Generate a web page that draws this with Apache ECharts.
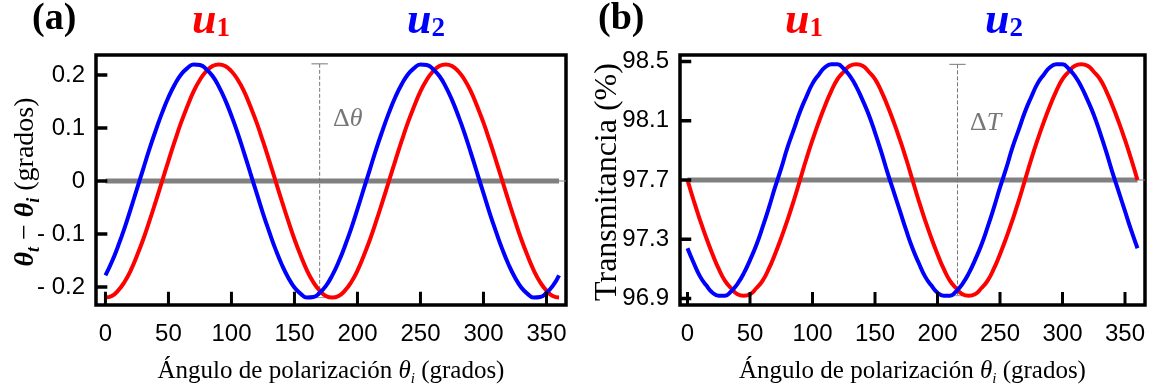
<!DOCTYPE html>
<html>
<head>
<meta charset="utf-8">
<script src="https://cdn.jsdelivr.net/npm/echarts@6/dist/echarts.min.js"></script>
<style>
  html, body { margin: 0; padding: 0; background: #fff; }
  #chart { width: 1157px; height: 391px; }
</style>
</head>
<body>
<div id="chart"></div>
<script>
// polarisation angle, degrees (every 5)
var angles = [0,5,10,15,20,25,30,35,40,45,50,55,60,65,70,75,80,85,90,95,100,105,110,115,120,125,130,135,140,145,150,155,160,165,170,175,
  180,185,190,195,200,205,210,215,220,225,230,235,240,245,250,255,260,265,270,275,280,285,290,295,300,305,310,315,320,325,330,335,340,345,350,355,360]

// (a) theta_t - theta_i (grados)
var devU1 = [-0.22,-0.217,-0.207,-0.191,-0.169,-0.141,-0.11,-0.075,-0.038,0,0.038,0.075,0.11,0.141,0.169,0.191,0.207,0.217,0.22,0.217,0.207,0.191,0.169,0.141,0.11,0.075,0.038,0,-0.038,-0.075,-0.11,-0.141,-0.169,-0.191,-0.207,-0.217,
  -0.22,-0.217,-0.207,-0.191,-0.169,-0.141,-0.11,-0.075,-0.038,0,0.038,0.075,0.11,0.141,0.169,0.191,0.207,0.217,0.22,0.217,0.207,0.191,0.169,0.141,0.11,0.075,0.038,0,-0.038,-0.075,-0.11,-0.141,-0.169,-0.191,-0.207,-0.217,-0.22]
var devU2 = [-0.178,-0.153,-0.123,-0.09,-0.053,-0.015,0.023,0.061,0.096,0.129,0.158,0.182,0.201,0.213,0.22,0.219,0.211,0.198,0.178,0.153,0.123,0.09,0.053,0.015,-0.023,-0.061,-0.096,-0.129,-0.158,-0.182,-0.201,-0.213,-0.22,-0.219,-0.211,-0.198,
  -0.178,-0.153,-0.123,-0.09,-0.053,-0.015,0.023,0.061,0.096,0.129,0.158,0.182,0.201,0.213,0.22,0.219,0.211,0.198,0.178,0.153,0.123,0.09,0.053,0.015,-0.023,-0.061,-0.096,-0.129,-0.158,-0.182,-0.201,-0.213,-0.22,-0.219,-0.211,-0.198,-0.178]

// (b) transmitancia (%)
var transU1 = [97.70,97.56,97.43,97.31,97.20,97.10,97.02,96.97,96.93,96.92,96.93,96.97,97.02,97.10,97.20,97.31,97.43,97.56,97.70,97.84,97.97,98.09,98.20,98.30,98.38,98.43,98.47,98.48,98.47,98.43,98.38,98.30,98.20,98.09,97.97,97.84,
  97.70,97.56,97.43,97.31,97.20,97.10,97.02,96.97,96.93,96.92,96.93,96.97,97.02,97.10,97.20,97.31,97.43,97.56,97.70,97.84,97.97,98.09,98.20,98.30,98.38,98.43,98.47,98.48,98.47,98.43,98.38,98.30,98.20,98.09,97.97,97.84,97.70]
var transU2 = [97.24,97.14,97.05,96.99,96.94,96.92,96.92,96.95,97.00,97.07,97.16,97.26,97.38,97.51,97.65,97.78,97.92,98.04,98.16,98.26,98.35,98.41,98.46,98.48,98.48,98.45,98.40,98.33,98.24,98.14,98.02,97.89,97.75,97.62,97.49,97.36,
  97.24,97.14,97.05,96.99,96.94,96.92,96.92,96.95,97.00,97.07,97.16,97.26,97.38,97.51,97.65,97.78,97.92,98.04,98.16,98.26,98.35,98.41,98.46,98.48,98.48,98.45,98.40,98.33,98.24,98.14,98.02,97.89,97.75,97.62,97.49,97.36,97.24]

var xTicks = [0,50,100,150,200,250,300,350]
var yTicksA = [-0.2,-0.1,0,0.1,0.2]
var yTicksB = [96.9,97.3,97.7,98.1,98.5]

// axis ranges
var xRangeA = [-7.5, 365.5]
var xRangeB = [-6, 366]
var yRangeA = [-0.234, 0.2377]
var yRangeB = [96.857, 98.543]

// reference level and the delta markers
var refA = 0
var refB = 97.7
var deltaA = { x: 170, top: 0.221, bottom: -0.22 }
var deltaB = { x: 216, top: 98.48, bottom: 96.92 }

var RED = '#ff0000'
var BLUE = '#0000ff'
var GREY = '#808080'
var tickFont = '"Liberation Sans Narrow", "Liberation Sans", sans-serif'
var serif = '"Liberation Serif", "DejaVu Serif", serif'

function pairs(xs, ys) {
  return xs.map(function (x, i) { return [x, ys[i]] })
}

function fmtA(v) {
  if (v === 0) return '0'
  return v < 0 ? '- ' + Math.abs(v).toFixed(1) : v.toFixed(1)
}

var xName = '{n|Ángulo de polarización }{it|θ}{sub|i}{n| (grados)}'
var xRich = {
  n: { fontFamily: serif, fontSize: 25, color: '#000', lineHeight: 32 },
  it: { fontFamily: serif, fontSize: 25, fontStyle: 'italic', color: '#000', lineHeight: 32 },
  sub: { fontFamily: serif, fontSize: 15, fontStyle: 'italic', color: '#000', lineHeight: 14, verticalAlign: 'bottom' }
}

function xAxisFor(idx, range) {
  return {
    type: 'value', gridIndex: idx, min: range[0], max: range[1],
    axisLine: { show: false, onZero: false },
    splitLine: { show: false },
    axisTick: { show: false },
    axisLabel: { customValues: xTicks, fontFamily: tickFont, fontSize: 24, color: '#000', margin: 17 },
    name: xName, nameLocation: 'middle', nameGap: 50,
    nameTextStyle: { rich: xRich }
  }
}

function yAxisFor(idx, range, ticks, fmt) {
  return {
    type: 'value', gridIndex: idx, min: range[0], max: range[1],
    axisLine: { show: false, onZero: false },
    splitLine: { show: false },
    axisTick: { show: false },
    axisLabel: { customValues: ticks, formatter: fmt, fontFamily: tickFont, fontSize: 24, color: '#000', margin: 11 }
  }
}

function seg(idx, data, color, width, dashed, z) {
  return {
    type: 'line', xAxisIndex: idx, yAxisIndex: idx, data: data,
    showSymbol: false, silent: true,
    lineStyle: { color: color, width: width, type: dashed ? 'dashed' : 'solid' }, z: z
  }
}

// inward tick marks on the frame; len is the tick length in data units
function tickMarks(idx, values, dir, edge, len, width) {
  return values.map(function (v) {
    var d = dir === 'x' ? [[v, edge], [v, edge + len]] : [[edge, v], [edge + len, v]]
    return seg(idx, d, '#000', width, false, 5)
  })
}

function curve(idx, data, color) {
  return {
    type: 'line', xAxisIndex: idx, yAxisIndex: idx, data: data,
    smooth: true, showSymbol: false, silent: true,
    lineStyle: { color: color, width: 4 }, z: 3
  }
}

function deltaMarker(idx, d, capHalf) {
  return [
    seg(idx, [[d.x, d.top], [d.x, d.bottom]], '#777', 1, true, 2),
    seg(idx, [[d.x - capHalf, d.top], [d.x + capHalf, d.top]], '#777', 1, false, 2),
    seg(idx, [[d.x - capHalf, d.bottom], [d.x + capHalf, d.bottom]], '#999', 1, false, 2)
  ]
}

var labelStyle = function (txt, x, y, size, color, extra) {
  return {
    type: 'text', left: x, top: y,
    style: Object.assign({ text: txt, fontFamily: serif, fontSize: size, fill: color }, extra || {})
  }
}

function uLabel(x, y, n, color) {
  return {
    type: 'text', left: x, top: y,
    style: {
      text: '{u|u}{s|' + n + '}',
      rich: {
        u: { fontFamily: serif, fontSize: 44, fontStyle: 'italic', fontWeight: 'bold', fill: color, lineHeight: 42 },
        s: { fontFamily: serif, fontSize: 27, fontWeight: 'bold', fill: color, lineHeight: 24, verticalAlign: 'bottom' }
      }
    }
  }
}

var chart = echarts.init(document.getElementById('chart'))
var option = {
  animation: false,
  backgroundColor: '#fff',
  grid: [
    { left: 96, top: 55, width: 470, height: 250, outerBoundsMode: 'none', show: true, borderColor: '#000', borderWidth: 3.5 },
    { left: 680, top: 55, width: 465, height: 250, outerBoundsMode: 'none', show: true, borderColor: '#000', borderWidth: 3.5 }
  ],
  xAxis: [xAxisFor(0, xRangeA), xAxisFor(1, xRangeB)],
  yAxis: [
    yAxisFor(0, yRangeA, yTicksA, fmtA),
    yAxisFor(1, yRangeB, yTicksB, function (v) { return v.toFixed(1) })
  ],
  series: [].concat(
    [
      seg(0, [[xRangeA[0], refA], [xRangeA[1], refA]], GREY, 1, false, 1),
      seg(0, [[0, refA], [360, refA]], GREY, 5, false, 1),
      curve(0, pairs(angles, devU1), RED),
      curve(0, pairs(angles, devU2), BLUE),
      seg(1, [[xRangeB[0], refB], [xRangeB[1], refB]], GREY, 1, false, 1),
      seg(1, [[0, refB], [360, refB]], GREY, 5, false, 1),
      curve(1, pairs(angles, transU1), RED),
      curve(1, pairs(angles, transU2), BLUE)
    ],
    tickMarks(0, xTicks, 'x', yRangeA[0], 0.025, 3),
    tickMarks(0, yTicksA, 'y', xRangeA[0], 9, 3.5),
    tickMarks(1, xTicks, 'x', yRangeB[0], 0.088, 3),
    tickMarks(1, yTicksB, 'y', xRangeB[0], 9, 3.5),
    deltaMarker(0, deltaA, 6.5),
    deltaMarker(1, deltaB, 6.5)
  ),
  graphic: [
    labelStyle('(a)', 32, 0, 38, '#000', { fontWeight: 'bold' }),
    labelStyle('(b)', 598, 0, 38, '#000', { fontWeight: 'bold' }),
    uLabel(192, 0, 1, RED),
    uLabel(407, 0, 2, BLUE),
    uLabel(785, 0, 1, RED),
    uLabel(985, 0, 2, BLUE),
    {
      type: 'text', x: 26, y: 182, rotation: Math.PI / 2,
      style: {
        text: '{it|θ}{sub|t}{n| − }{it|θ}{sub|i}{n| (grados)}',
        align: 'center', verticalAlign: 'middle',
        rich: {
          n: { fontFamily: serif, fontSize: 28, fill: '#000', lineHeight: 34 },
          it: { fontFamily: serif, fontSize: 28, fontStyle: 'italic', fontWeight: 'bold', fill: '#000', lineHeight: 34 },
          sub: { fontFamily: serif, fontSize: 18, fontStyle: 'italic', fontWeight: 'bold', fill: '#000', lineHeight: 16, verticalAlign: 'bottom' }
        }
      }
    },
    {
      type: 'text', x: 608, y: 182, rotation: Math.PI / 2,
      style: { text: 'Transmitancia (%)', fontFamily: serif, fontSize: 32, fill: '#000', align: 'center', verticalAlign: 'middle' }
    },
    {
      type: 'text', left: 333, top: 106,
      style: {
        text: '{d|Δ}{t|θ}',
        rich: {
          d: { fontFamily: serif, fontSize: 26, fill: '#777' },
          t: { fontFamily: serif, fontSize: 26, fontStyle: 'italic', fill: '#777' }
        }
      }
    },
    {
      type: 'text', left: 970, top: 110,
      style: {
        text: '{d|Δ}{t|T}',
        rich: {
          d: { fontFamily: serif, fontSize: 26, fill: '#777' },
          t: { fontFamily: serif, fontSize: 26, fontStyle: 'italic', fill: '#777' }
        }
      }
    }
  ]
}
chart.setOption(option)
</script>
</body>
</html>
